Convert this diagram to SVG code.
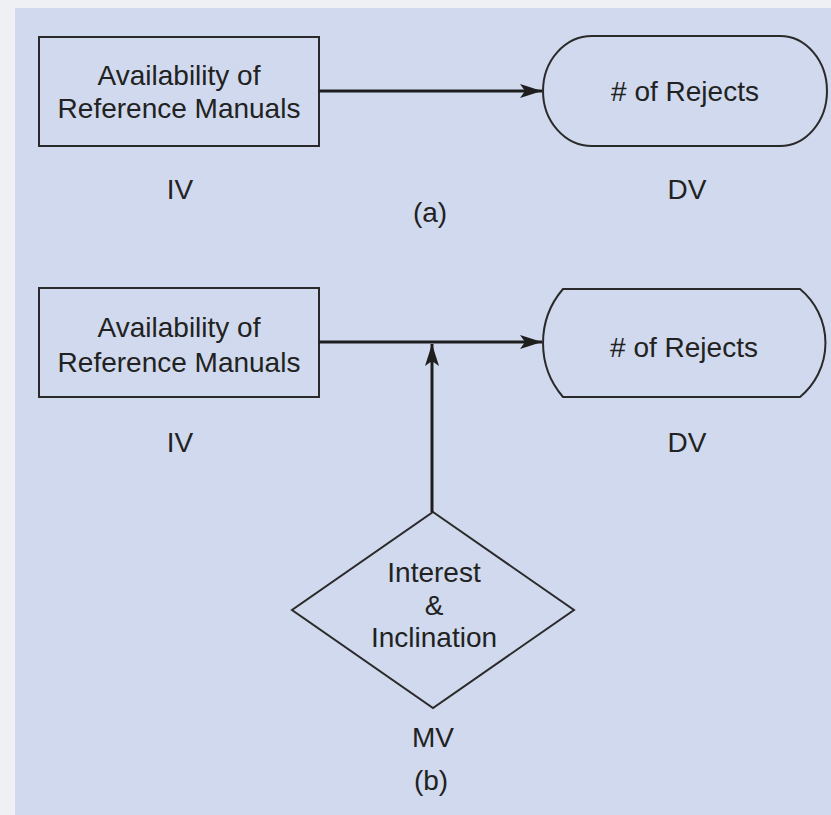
<svg xmlns="http://www.w3.org/2000/svg" width="831" height="815" viewBox="0 0 831 815">
<style>
.shape{fill:none;stroke:#2a2a2a;stroke-width:2}
.conn{fill:none;stroke:#1e1e1e;stroke-width:3}
text{font-family:"Liberation Sans",Arial,sans-serif;font-size:28px;fill:#222;text-anchor:middle}
</style>
<defs>
<marker id="arr" markerUnits="userSpaceOnUse" markerWidth="24" markerHeight="18" viewBox="0 0 24 18" refX="22" refY="9" orient="auto">
<path d="M0,2 L22,9 L0,16 L5,9 Z" fill="#1e1e1e"/>
</marker>
</defs>
<rect x="0" y="0" width="831" height="815" fill="#eef0f3"/>
<rect x="15" y="8" width="816" height="807" fill="#d0d9ed"/>

<g id="iv-a">
<rect class="shape" x="39" y="37" width="280" height="109"/>
<text x="179" y="85">Availability of</text>
<text x="179" y="118">Reference Manuals</text>
</g>
<g id="dv-a">
<path class="shape" d="M592,36 L780,36 A47,55 0 0 1 780,146 L592,146 A49,55 0 0 1 592,36 Z"/>
<text x="685" y="101"># of Rejects</text>
</g>
<g id="labels-a">
<text x="180" y="199">IV</text>
<text x="687" y="199">DV</text>
<text x="430" y="222">(a)</text>
</g>

<g id="iv-b">
<rect class="shape" x="39" y="288" width="280" height="109"/>
<text x="179" y="337">Availability of</text>
<text x="179" y="372">Reference Manuals</text>
</g>
<g id="dv-b">
<path class="shape" d="M563,289 L800,289 A70,70 0 0 1 800,397 L563,397 A83,83 0 0 1 563,289 Z"/>
<text x="684" y="357"># of Rejects</text>
</g>
<g id="mv-b">
<path class="shape" d="M433,512 L574,610 L433,708 L292,610 Z"/>
<text x="434" y="582">Interest</text>
<text x="434" y="615">&amp;</text>
<text x="434" y="647">Inclination</text>
</g>
<g id="labels-b">
<text x="180" y="452">IV</text>
<text x="687" y="452">DV</text>
<text x="433" y="747">MV</text>
<text x="431" y="790">(b)</text>
</g>

<g id="connectors">
<line class="conn" x1="319" y1="91" x2="542" y2="91" marker-end="url(#arr)"/>
<line class="conn" x1="319" y1="342" x2="542" y2="342" marker-end="url(#arr)"/>
<line class="conn" x1="432" y1="512" x2="432" y2="344" marker-end="url(#arr)"/>
</g>
</svg>
